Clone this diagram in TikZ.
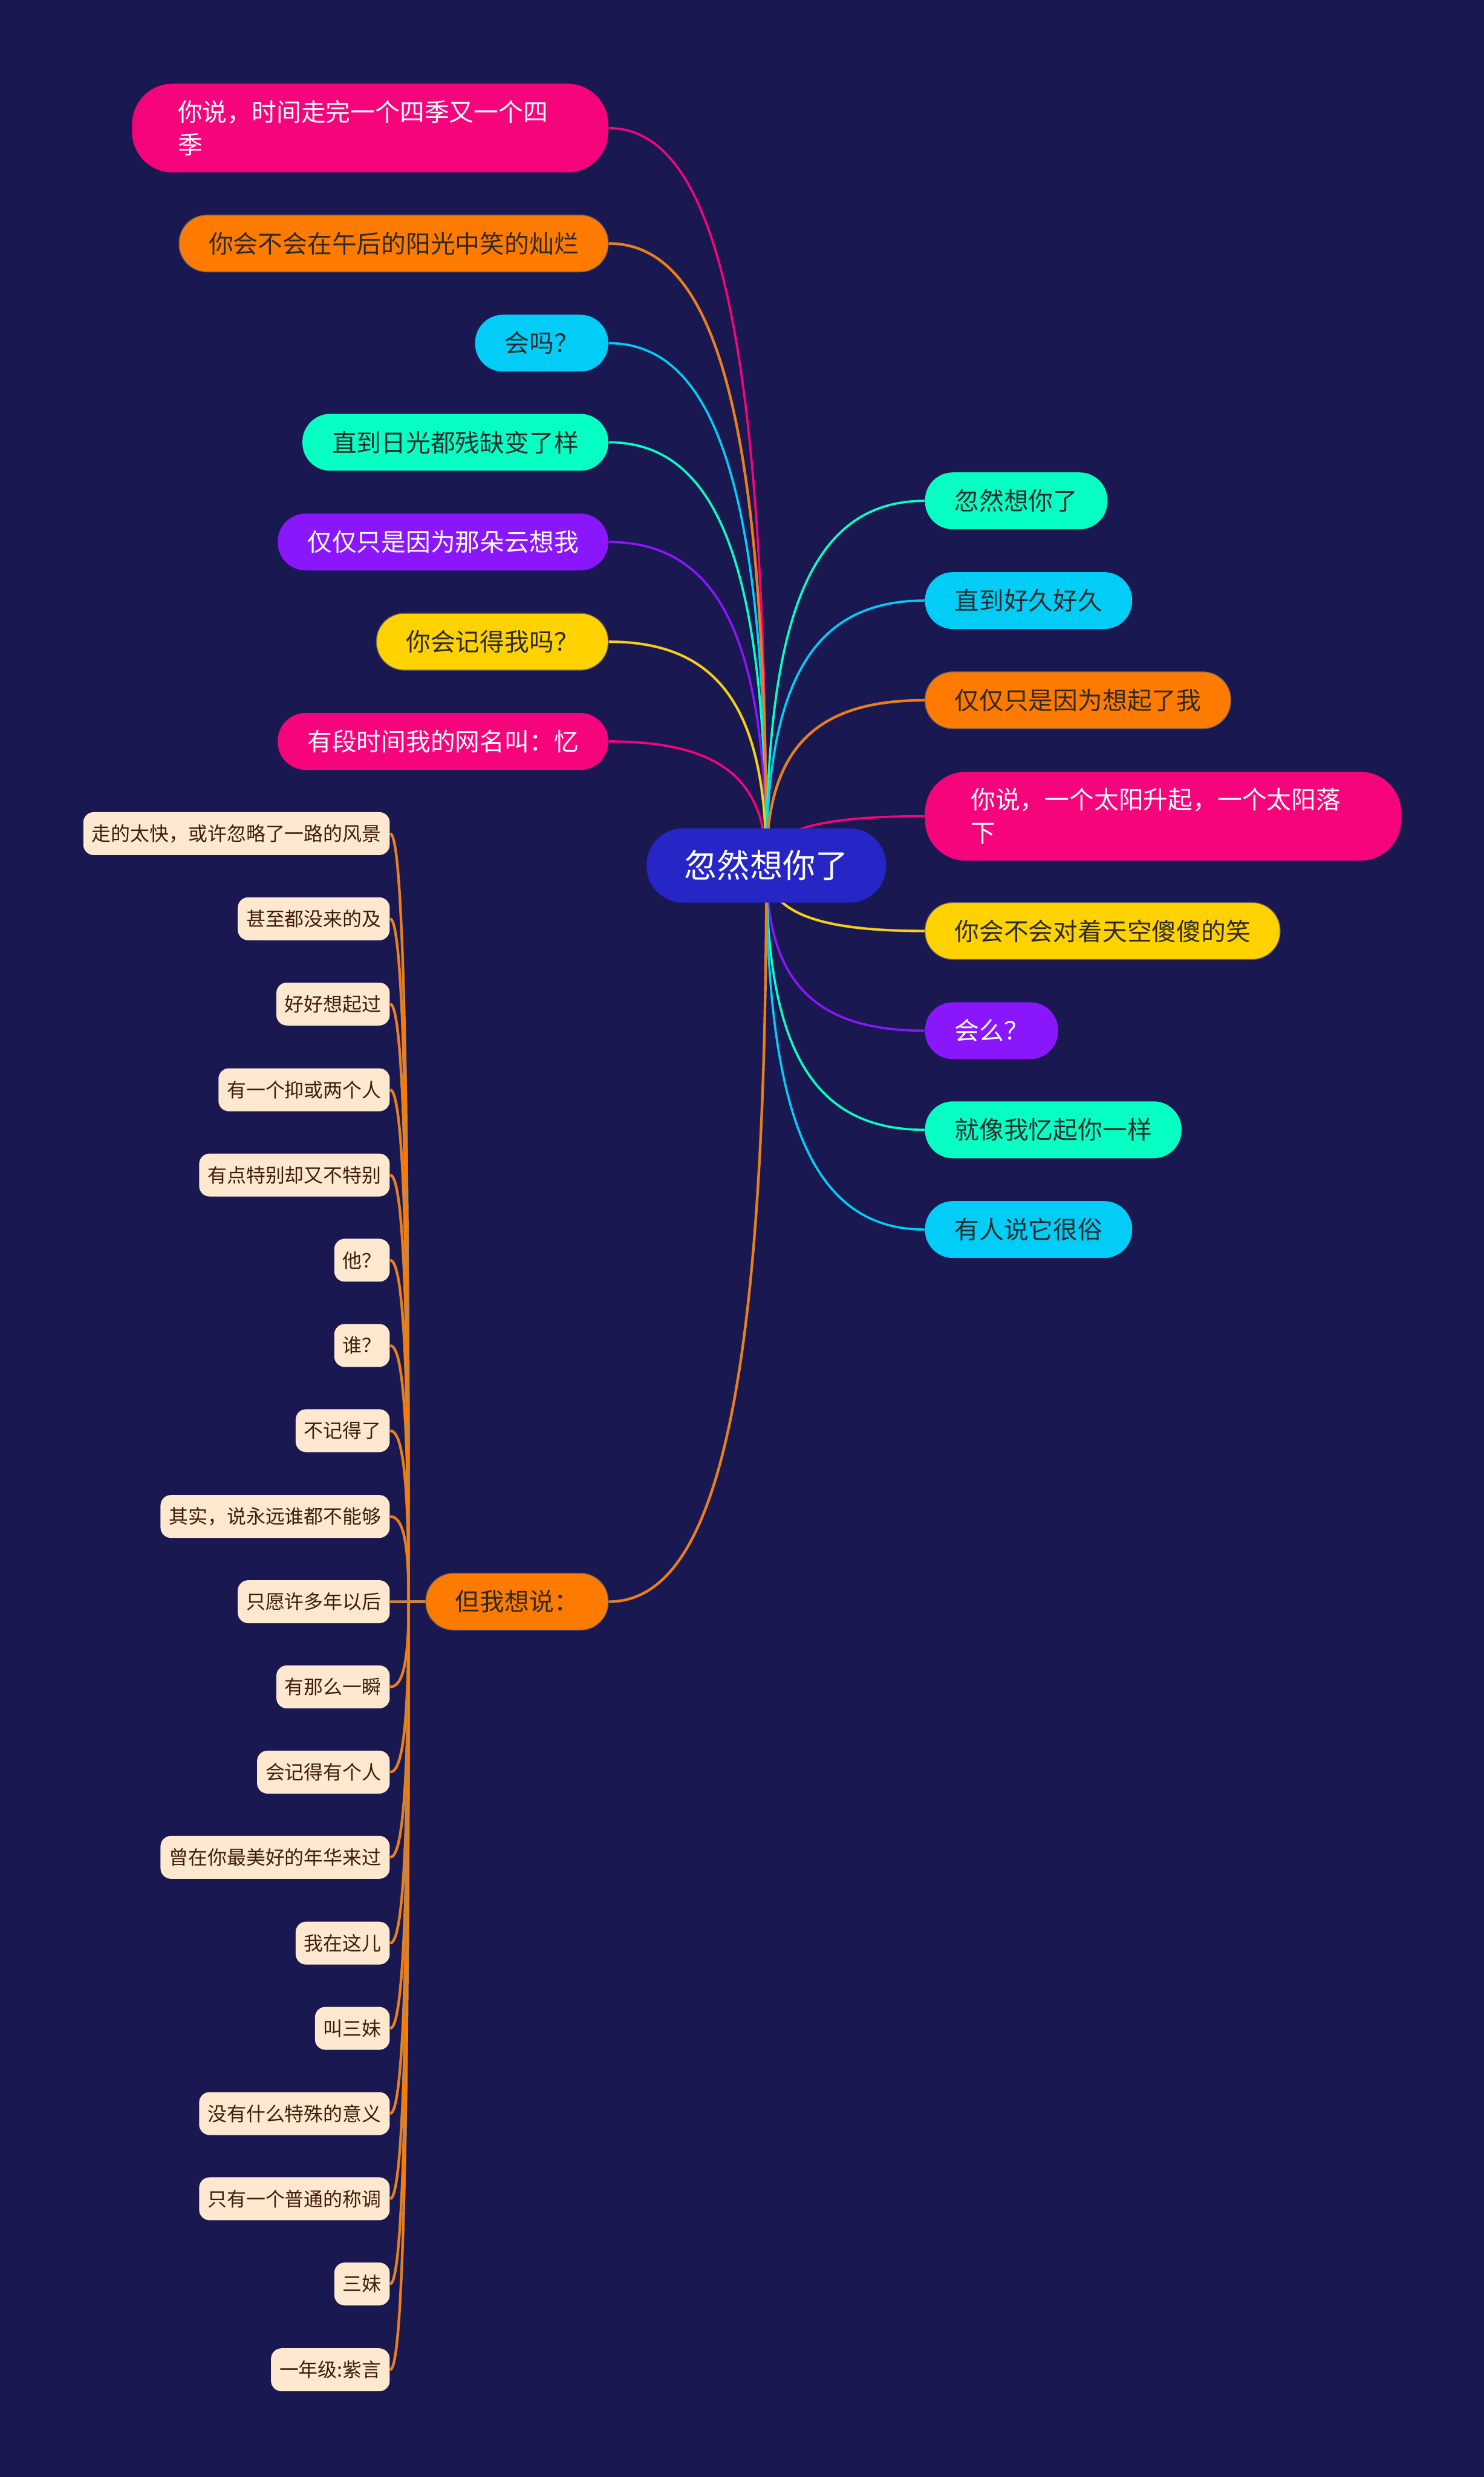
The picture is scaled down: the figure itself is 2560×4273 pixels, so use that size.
\documentclass[tikz,border=0pt]{standalone}
\usepackage{fontspec}
\setmainfont{Noto Sans CJK SC}
\usepackage{xcolor}
\definecolor{navybg}{HTML}{1A1850}
\definecolor{rootblue}{HTML}{2626C6}
\definecolor{pinkc}{HTML}{F5047B}
\definecolor{orangec}{HTML}{FF7B00}
\definecolor{cyanc}{HTML}{02CDF6}
\definecolor{aquac}{HTML}{08FFC4}
\definecolor{purplec}{HTML}{8A16FB}
\definecolor{yellowc}{HTML}{FFD200}
\definecolor{beige}{HTML}{FFE8D0}
\definecolor{inkdark}{HTML}{2C2A2A}
\definecolor{inkbrown}{HTML}{3E1E0A}
\usepackage{tikz}
\usetikzlibrary{calc}
\pgfdeclarelayer{backfill}
\pgfdeclarelayer{links}
\pgfsetlayers{backfill,links,main}

\begin{document}
\begin{tikzpicture}[
  x=0.01cm, y=-0.01cm,
  rootbox/.style={
    rectangle, rounded corners=0.63cm,
    minimum height=1.28cm, inner xsep=0.65cm, inner ysep=0pt,
    fill=rootblue, text=white,
    font=\fontsize{16.1}{19}\selectfont
  },
  topic/.style={
    rectangle, rounded corners=0.48cm,
    minimum height=0.98cm, inner xsep=0.51cm, inner ysep=0pt,
    fill=#1, text=inkdark,
    font=\fontsize{12.1}{16.2}\selectfont
  },
  topicw/.style={topic=#1, text=white},
  topictwo/.style={
    topicw=#1, text width=6.63cm, align=left,
    inner xsep=0.79cm, minimum height=1.53cm, rounded corners=0.7cm
  },
  ringed/.style={draw=black!60, line width=0.4pt},
  leaf/.style={
    rectangle, rounded corners=0.18cm, anchor=east,
    minimum height=0.74cm, inner xsep=0.145cm, inner ysep=0pt,
    fill=beige, text=inkbrown,
    font=\fontsize{9.47}{11}\selectfont
  },
  link/.style={draw=#1, line width=1.1pt},
  edgy/.style={draw=black!45, double=#1, double distance=1.0pt, line width=0.15pt},
  curvy/.style={to path={
    .. controls ($(\tikztostart)!0.7!(\tikztostart |- \tikztotarget)$)
    and ($(\tikztotarget)!0.7!(\tikztostart |- \tikztotarget)$) .. (\tikztotarget)}}
]
\useasboundingbox (0,0) rectangle (2560,4273);
\begin{pgfonlayer}{backfill}
\fill[navybg] (0,0) rectangle (2560,4273);
\end{pgfonlayer}

\node[rootbox] (root) at (1322,1493) {忽然想你了};

\node[topictwo=pinkc, anchor=east] (l1) at (1050,221) {你说，时间走完一个四季又一个四\\季};
\node[topic=orangec, ringed, anchor=east] (l2) at (1050,420) {你会不会在午后的阳光中笑的灿烂};
\node[topic=cyanc, anchor=east] (l3) at (1050,592) {会吗？};
\node[topic=aquac, anchor=east] (l4) at (1050,763) {直到日光都残缺变了样};
\node[topicw=purplec, anchor=east] (l5) at (1050,935) {仅仅只是因为那朵云想我};
\node[topic=yellowc, ringed, anchor=east] (l6) at (1050,1107) {你会记得我吗？};
\node[topicw=pinkc, anchor=east] (l7) at (1050,1279) {有段时间我的网名叫：忆};

\node[topic=aquac, anchor=west] (r1) at (1595,864) {忽然想你了};
\node[topic=cyanc, anchor=west] (r2) at (1595,1036) {直到好久好久};
\node[topic=orangec, ringed, anchor=west] (r3) at (1595,1208) {仅仅只是因为想起了我};
\node[topictwo=pinkc, anchor=west] (r4) at (1595,1408) {你说，一个太阳升起，一个太阳落\\下};
\node[topic=yellowc, ringed, anchor=west] (r5) at (1595,1606) {你会不会对着天空傻傻的笑};
\node[topicw=purplec, anchor=west] (r6) at (1595,1778) {会么？};
\node[topic=aquac, anchor=west] (r7) at (1595,1949) {就像我忆起你一样};
\node[topic=cyanc, anchor=west] (r8) at (1595,2121) {有人说它很俗};

\node[topic=orangec, ringed, anchor=east] (say) at (1050,2763) {但我想说：};
\coordinate (hub) at (705,2763);

\node[leaf] (c1) at (673,1438) {走的太快，或许忽略了一路的风景};
\node[leaf] (c2) at (673,1585) {甚至都没来的及};
\node[leaf] (c3) at (673,1732) {好好想起过};
\node[leaf] (c4) at (673,1880) {有一个抑或两个人};
\node[leaf] (c5) at (673,2027) {有点特别却又不特别};
\node[leaf] (c6) at (673,2174) {他？};
\node[leaf] (c7) at (673,2321) {谁？};
\node[leaf] (c8) at (673,2468) {不记得了};
\node[leaf] (c9) at (673,2616) {其实，说永远谁都不能够};
\node[leaf] (c10) at (673,2763) {只愿许多年以后};
\node[leaf] (c11) at (673,2910) {有那么一瞬};
\node[leaf] (c12) at (673,3057) {会记得有个人};
\node[leaf] (c13) at (673,3204) {曾在你最美好的年华来过};
\node[leaf] (c14) at (673,3352) {我在这儿};
\node[leaf] (c15) at (673,3499) {叫三妹};
\node[leaf] (c16) at (673,3646) {没有什么特殊的意义};
\node[leaf] (c17) at (673,3793) {只有一个普通的称调};
\node[leaf] (c18) at (673,3940) {三妹};
\node[leaf] (c19) at (673,4088) {一年级:紫言};

\begin{pgfonlayer}{links}
\foreach \n/\c in {l1/pinkc,l3/cyanc,l4/aquac,l5/purplec,l7/pinkc} {
  \draw[link=\c] (root.center) to[curvy] (\n.east);
}
\foreach \n/\c in {l2/orangec,l6/yellowc} {
  \draw[edgy=\c] (root.center) to[curvy] (\n.east);
}
\foreach \n/\c in {r1/aquac,r2/cyanc,r4/pinkc,r6/purplec,r7/aquac,r8/cyanc} {
  \draw[link=\c] (root.center) to[curvy] (\n.west);
}
\foreach \n/\c in {r3/orangec,r5/yellowc} {
  \draw[edgy=\c] (root.center) to[curvy] (\n.west);
}
\draw[edgy=orangec] (root.center) to[curvy] (say.east);
\foreach \n in {1,...,19} {
  \draw[edgy=orangec] (say.west) -- (hub) to[curvy] (c\n.east);
}
\end{pgfonlayer}
\end{tikzpicture}
\end{document}
